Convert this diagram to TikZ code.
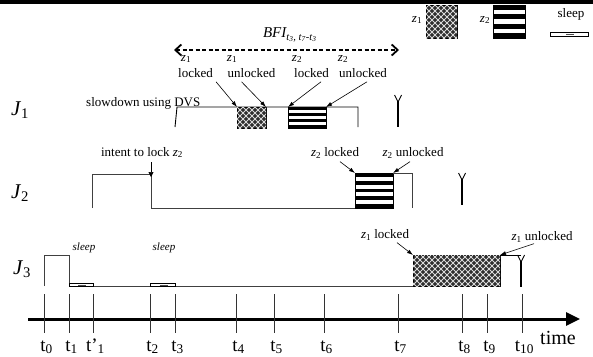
\documentclass[tikz,border=0pt]{standalone}
\usepackage{fontspec}
\setmainfont{Liberation Serif}
\usetikzlibrary{arrows.meta,patterns}
\pgfdeclarepatternformonly{lattice}{\pgfqpoint{-1pt}{-1pt}}{\pgfqpoint{7pt}{7pt}}{\pgfqpoint{6pt}{6pt}}{%
  \pgfsetlinewidth{1pt}%
  \pgfpathmoveto{\pgfqpoint{0pt}{0pt}}\pgfpathlineto{\pgfqpoint{6pt}{6pt}}%
  \pgfpathmoveto{\pgfqpoint{0pt}{6pt}}\pgfpathlineto{\pgfqpoint{6pt}{0pt}}%
  \pgfusepath{stroke}%
}
\newcommand\stripebox[5]{%
  \pgfmathsetmacro\sbh{(#4-#2)/#5}%
  \pgfmathtruncatemacro\sbn{#5-1}%
  \fill[white] (#1,#2) rectangle (#3,#4);
  \foreach \k in {0,2,...,\sbn} {
    \fill[black] (#1,{#2+\k*\sbh}) rectangle (#3,{#2+(\k+1)*\sbh});
  }
  \draw[black,line width=0.8pt] (#1,#2) rectangle (#3,#4);
}
\newcommand\sleepbox[3]{% x1,x2,y
  \draw[black,fill=white,line width=0.7pt] (#1,#3-1.7) rectangle (#2,#3+1.7);
  \draw[black!70,line width=1pt] ({(#1+#2)/2-3},#3) -- ({(#1+#2)/2+5},#3);
}
\newcommand\deadline[3]{% x, ytop, ybottom
  \draw[black,line width=1.3pt] (#1,#2+6) -- (#1,#3);
  \draw[black,line width=0.9pt] (#1-3.5,#2) -- (#1,#2+7) -- (#1+3.5,#2);
}
\begin{document}
\begin{tikzpicture}[x=1pt,y=-1pt,
  lbl/.style={font=\fontsize{13}{13}\selectfont, inner sep=0pt},
  zlbl/.style={font=\fontsize{13}{13}\selectfont, inner sep=0pt},
  slp/.style={font=\fontsize{11}{11}\selectfont\itshape, inner sep=0pt},
  jlbl/.style={font=\fontsize{21}{21}\selectfont, inner sep=0pt},
  tlbl/.style={font=\fontsize{19}{19}\selectfont, inner sep=0pt, anchor=base},
  hatch/.style={draw=black, line width=0.8pt, fill=black!82, postaction={pattern=lattice, pattern color=white!85!black}},
  job/.style={draw=black!75, line width=0.9pt},
  ptr/.style={draw=black, line width=0.6pt, -{Latex[length=6pt,width=4pt]}},
  tick/.style={draw=black!80, line width=0.9pt},
]
\useasboundingbox (0,0) rectangle (593,356);
% top band
\fill[black] (0,0) rectangle (593,4);

% legend
\node[zlbl] (lgz1) at (417,20) {\textit{z}\textsubscript{1}};
\draw[hatch] (426,5) rectangle (457,38);
\node[zlbl] (lgz2) at (485,20) {\textit{z}\textsubscript{2}};
\stripebox{493}{5}{525}{38}{7}
\node[zlbl] (lgsleep) at (571,14) {sleep};
\sleepbox{550}{588}{34.5}

% BFI arrow
\node[font=\fontsize{15}{15}\selectfont, inner sep=0pt] (bfi) at (290,35) {\textit{BFI\textsubscript{t\textsubscript{3}, t\textsubscript{7}-t\textsubscript{3}}}};
\coordinate (bfiL) at (174,50);
\coordinate (bfiR) at (399,50);
\draw[line width=1.8pt, dash pattern=on 4pt off 2.5pt, {Straight Barb[length=6pt,width=11pt]}-{Straight Barb[length=6pt,width=11pt]}] (bfiL) -- (bfiR);

% top labels
\node[zlbl] (za) at (186,59) {\textit{z}\textsubscript{1}};
\node[lbl] (la) at (195.5,73) {locked};
\node[zlbl] (zb) at (232,59) {\textit{z}\textsubscript{1}};
\node[lbl] (lb) at (251.5,73) {unlocked};
\node[zlbl] (zc) at (297,59) {\textit{z}\textsubscript{2}};
\node[lbl] (lc) at (311.5,73) {locked};
\node[zlbl] (zd) at (343,59) {\textit{z}\textsubscript{2}};
\node[lbl] (ld) at (363,73) {unlocked};

% J1
\node[jlbl] (J1) at (20,110) {\textit{J}\textsubscript{1}};
\node[lbl, anchor=base west] (dvs) at (86,106) {slowdown using DVS};
\draw[black,line width=0.9pt] (175,127) -- (177,107) -- (358,107) -- (358,127);
\draw[hatch] (237,107) rectangle (266,128);
\stripebox{288}{107}{326}{128}{7}
\coordinate (c1L) at (237,107);
\coordinate (c1R) at (266,107);
\coordinate (s1L) at (288,107);
\coordinate (s1R) at (326,107);
\draw[ptr] ([shift={(3,4)}]la.south east) -- (c1L);
\draw[ptr] ([shift={(-10,4)}]lb.south) -- (c1R);
\draw[ptr] ([shift={(-8,4)}]lc.south east) -- (s1L);
\draw[ptr] ([shift={(-20,4)}]ld.south east) -- (s1R);
\deadline{398}{95}{127}

% J2
\node[jlbl] (J2) at (20,193) {\textit{J}\textsubscript{2}};
\node[lbl, anchor=base] (intent) at (142,156) {intent to lock \textit{z}\textsubscript{2}};
\draw[job] (92,208) -- (92,174) -- (151,174) -- (151,208) -- (355,208);
\coordinate (intentTip) at (151,177);
\draw[black,line width=0.6pt,-{Triangle[length=5pt,width=5pt]}] (151,162) -- (intentTip);
\stripebox{355}{173}{393}{208}{9}
\draw[job] (393,173) -- (412,173) -- (412,208);
\node[lbl] (z2l) at (335,153) {\textit{z}\textsubscript{2} locked};
\node[lbl] (z2u) at (413,153) {\textit{z}\textsubscript{2} unlocked};
\coordinate (s2L) at (355,173);
\coordinate (s2R) at (393,173);
\draw[ptr] ([shift={(5,3)}]z2l.south) -- (s2L);
\draw[ptr] ([shift={(-3,3)}]z2u.south) -- (s2R);
\deadline{462}{173}{205}

% J3
\node[jlbl] (J3) at (22,269) {\textit{J}\textsubscript{3}};
\draw[job] (44,286) -- (44,255) -- (69,255) -- (69,286) -- (413,286);
\sleepbox{69}{93}{285}
\sleepbox{150}{175}{285}
\node[slp] (sl1) at (84,248) {sleep};
\node[slp] (sl2) at (164,248) {sleep};
\draw[hatch] (413,255) rectangle (500,286);
\coordinate (c3L) at (413,255);
\coordinate (c3R) at (500,255);
\draw[black,line width=0.9pt] (c3R) -- (521,255);
\deadline{521}{255}{287}
\node[lbl] (z1l) at (385,235) {\textit{z}\textsubscript{1} locked};
\node[lbl] (z1u) at (542,237) {\textit{z}\textsubscript{1} unlocked};
\draw[ptr] ([shift={(12,2)}]z1l.south) -- (c3L);
\draw[ptr] ([shift={(-8,1)}]z1u.south) -- (c3R);

% time axis
\coordinate (axL) at (28,319);
\coordinate (axR) at (580,319);
\draw[line width=3pt, -{Triangle[length=14pt,width=13pt]}] (axL) -- (axR);
\foreach \x/\n/\lab in {44/0/t\textsubscript{0}, 69/1/t\textsubscript{1}, 93/1p/t'\textsubscript{1}, 150/2/t\textsubscript{2}, 175/3/t\textsubscript{3}, 236/4/t\textsubscript{4}, 274/5/t\textsubscript{5}, 324/6/t\textsubscript{6}, 398/7/t\textsubscript{7}, 462/8/t\textsubscript{8}, 487/9/t\textsubscript{9}, 522/10/t\textsubscript{10}} {
  \draw[tick] (\x,294) -- (\x,333);
  \node[tlbl] (t\n) at (\x+2.5,351) {\lab};
}
\node[font=\fontsize{20}{20}\selectfont, inner sep=0pt, anchor=base west] (time) at (540,344) {time};
\end{tikzpicture}
\end{document}
